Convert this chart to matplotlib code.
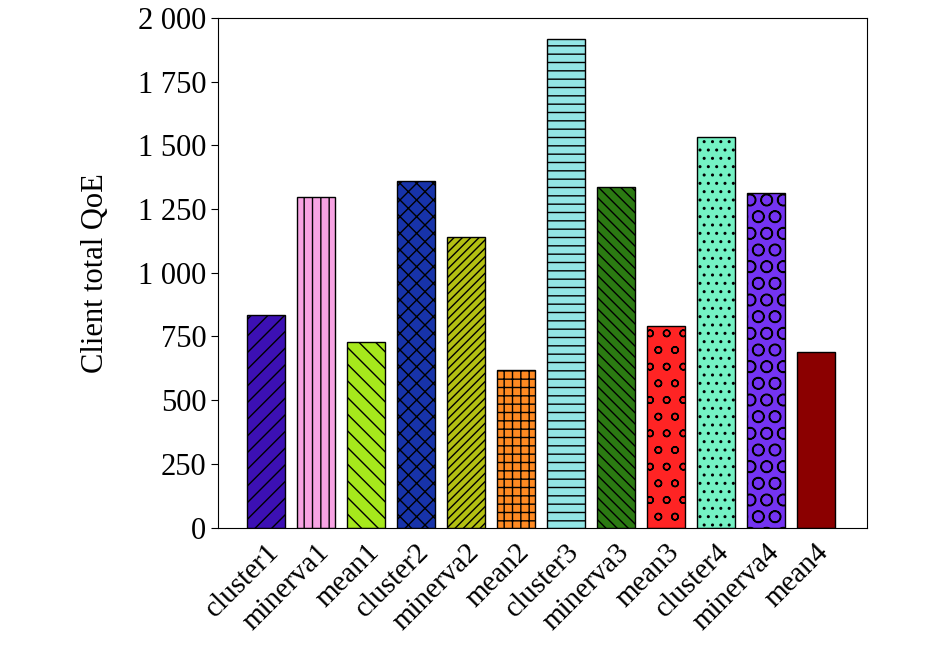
import numpy as np
import matplotlib.pyplot as plt

plt.rcParams['font.family'] = ['Liberation Serif', 'DejaVu Serif']
plt.rcParams['hatch.linewidth'] = 1.0

labels = ['cluster1', 'minerva1', 'mean1', 'cluster2', 'minerva2', 'mean2',
          'cluster3', 'minerva3', 'mean3', 'cluster4', 'minerva4', 'mean4']
values = [835, 1298, 727, 1358, 1142, 617, 1915, 1338, 793, 1533, 1313, 688]
colors = ['#3c10b4', '#f7a3e3', '#a6e81c', '#1733aa', '#b3c012', '#ff8a22',
          '#93e6e6', '#2b7a12', '#ff2424', '#74f2c4', '#7434f2', '#8b0000']
hatches = ['//', '||', '\\\\', 'xx', '////', '++', '--', '\\\\\\', 'o', '..', 'O', '']
yticks = [0, 250, 500, 750, 1000, 1250, 1500, 1750, 2000]

fig = plt.figure(figsize=(9.45, 6.58), dpi=100)
ax = fig.add_axes([0.231, 0.198, 0.686, 0.775])

x = np.arange(len(labels))
for i in range(len(labels)):
    ax.bar(x[i], values[i], width=0.76, color=colors[i], hatch=hatches[i],
           edgecolor='black', linewidth=1.0)

ax.set_xlim(-0.96, len(labels) + 0.02)
ax.set_ylim(0, 2000)
ax.set_yticks(yticks)
ax.set_yticklabels([f'{v:,}'.replace(',', ' ') for v in yticks], fontsize=22)
ax.set_xticks(x)
ax.set_xticklabels(labels, rotation=45, ha='right', rotation_mode='anchor', fontsize=21)
ax.tick_params(axis='x', length=0, pad=8)
ax.tick_params(axis='y', direction='out', length=5)
ax.set_ylabel('Client total QoE', fontsize=22, labelpad=20)

fig.savefig('out.png', dpi=100)
